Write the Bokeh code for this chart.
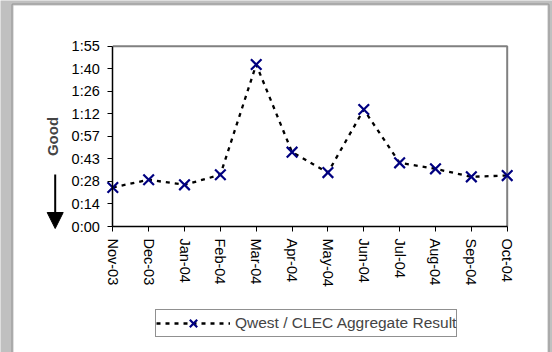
from bokeh.plotting import figure
from bokeh.models import (Range1d, FixedTicker, Legend, LegendItem, Arrow,
                          NormalHead, BoxAnnotation)
from bokeh.embed import file_html
from bokeh.resources import INLINE

months = ["Nov-03", "Dec-03", "Jan-04", "Feb-04", "Mar-04", "Apr-04",
          "May-04", "Jun-04", "Jul-04", "Aug-04", "Sep-04", "Oct-04"]
result = [24.9, 29.8, 26.6, 33.0, 103.3, 47.4, 34.4, 74.6, 40.6, 36.8, 31.7, 32.5]
y_tick_values = [0, 14.375, 28.75, 43.125, 57.5, 71.875, 86.25, 100.625, 115]
y_tick_labels = ["0:00", "0:14", "0:28", "0:43", "0:57", "1:12", "1:26", "1:40", "1:55"]
series_name = "Qwest / CLEC Aggregate Result"
y_title = "Good"

FONT = "Liberation Sans"
xs = list(range(len(months)))
x_max = xs[-1]
y_max = y_tick_values[-1]

# canvas geometry (pixels inside the figure, which fills the window)
W, H = 552, 352
PL, PR, PT, PB = 112.3, 506.7, 45.7, 226.0   # plot area edges
sx = (PR - PL) / x_max
sy = (PB - PT) / y_max


def dx(px):
    return (px - PL) / sx


def dy(py):
    return (PB - py) / sy


p = figure(width=W, height=H, output_backend="svg", toolbar_location=None,
           title=None, x_range=Range1d(dx(0), dx(W)),
           y_range=Range1d(dy(H), dy(0)), min_border=0,
           border_fill_color="#c0c0c0", background_fill_color="#c0c0c0",
           outline_line_color=None)
p.xgrid.visible = False
p.ygrid.visible = False

# white chart-area panel with dark frame
p.add_layout(BoxAnnotation(left=dx(12), right=dx(548), top=dy(4), bottom=dy(H + 20),
                           fill_color="white", fill_alpha=1.0,
                           line_color="#333333", line_width=2,
                           level="underlay"))

# top / right plot-area border
p.line([0, x_max, x_max], [y_max, y_max, 0], line_color="#808080", line_width=2)

line = p.line(xs, result, line_color="black", line_width=2.3, line_dash="4 5")
marks = p.scatter(xs, result, marker="x", size=15, line_color="#000080",
                  line_width=2.2)

p.yaxis.fixed_location = 0
p.yaxis.bounds = (0, y_max)
p.yaxis.ticker = FixedTicker(ticks=y_tick_values)
p.yaxis.major_label_overrides = dict(zip(y_tick_values, y_tick_labels))
p.yaxis.major_label_standoff = 8
p.yaxis.axis_label = y_title
p.yaxis.axis_label_text_font = FONT
p.yaxis.axis_label_text_font_style = "bold"
p.yaxis.axis_label_text_font_size = "15px"
p.yaxis.axis_label_standoff = 7

p.xaxis.fixed_location = 0
p.xaxis.bounds = (0, x_max)
p.xaxis.ticker = FixedTicker(ticks=xs)
p.xaxis.major_label_overrides = dict(zip(xs, months))
p.xaxis.major_label_orientation = "vertical"
p.xaxis.major_label_standoff = 7

for ax in (p.xaxis[0], p.yaxis[0]):
    ax.axis_line_color = "black"
    ax.axis_line_width = 1.5
    ax.major_tick_line_color = "black"
    ax.major_tick_out = 5
    ax.major_tick_in = 0
    ax.minor_tick_line_color = None
    ax.major_label_text_font = FONT
    ax.major_label_text_font_size = "14.5px"
    ax.major_label_text_color = "black"

# "Good" direction arrow, left of the value axis
p.add_layout(Arrow(end=NormalHead(size=16, fill_color="black",
                                  line_color="black"),
                   x_start=dx(54.7), y_start=dy(174),
                   x_end=dx(54.7), y_end=dy(228),
                   line_color="black", line_width=2))

legend = Legend(items=[LegendItem(label=series_name, renderers=[line, marks])],
                location=(155, H - 336.7), orientation="horizontal",
                glyph_width=74, glyph_height=26, label_text_font=FONT,
                label_text_font_size="15.5px", border_line_color="#222222",
                border_line_width=1, padding=0, margin=0, label_standoff=5,
                spacing=0, background_fill_color="white",
                background_fill_alpha=1.0)
p.add_layout(legend)

html = file_html(p, INLINE)
html = html.replace("<body>", '<body style="background-color:#c0c0c0;">', 1)
open("out.html", "w").write(html)
